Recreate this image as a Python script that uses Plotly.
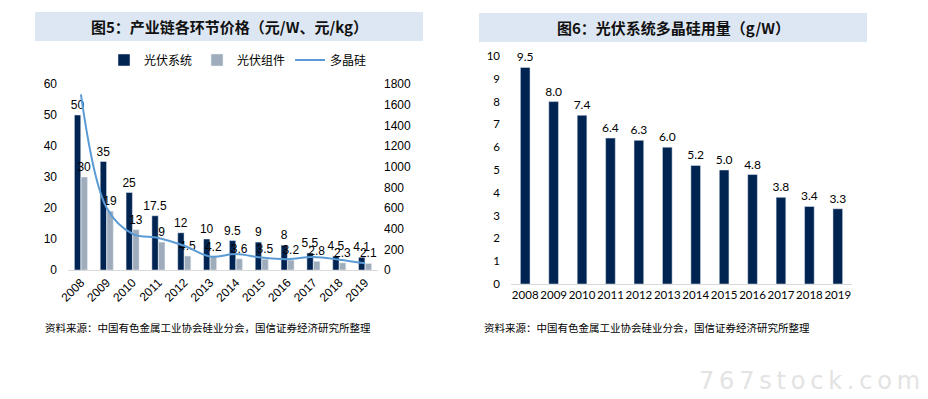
import plotly.graph_objects as go

years = ["2008", "2009", "2010", "2011", "2012", "2013", "2014", "2015", "2016", "2017", "2018", "2019"]
system_price = [50, 35, 25, 17.5, 12, 10, 9.5, 9, 8, 5.5, 4.5, 4.1]
module_price = [30, 19, 13, 9, 4.5, 4.2, 3.6, 3.5, 3.2, 2.8, 2.3, 2.1]
poly_price = [1700, 600, 350, 310, 235, 130, 155, 120, 105, 125, 100, 65]
poly_usage = [9.5, 8.0, 7.4, 6.4, 6.3, 6.0, 5.2, 5.0, 4.8, 3.8, 3.4, 3.3]

# page body has an 8px margin; the figure fills the rest of the 928x399 window
OFF = 8
W, H = 928 - OFF, 399 - OFF
def px(x):
    return (x - OFF) / W
def py(y):
    return 1 - (y - OFF) / H

NAVY = "#002451"
GREY = "#9eacbb"
BLUE = "#5b9bd5"
ARIAL = "Liberation Sans"
CJK = "Noto Sans CJK SC"

fig = go.Figure()

fig.add_trace(go.Bar(
    x=years, y=system_price, name="光伏系统", marker_color=NAVY,
    texttemplate="%{y}", textposition="outside",
    textfont=dict(family=ARIAL, size=12, color="#000"), constraintext="none",
    cliponaxis=False, xaxis="x", yaxis="y",
))
fig.add_trace(go.Bar(
    x=years, y=module_price, name="光伏组件", marker_color=GREY,
    texttemplate="%{y}", textposition="outside",
    textfont=dict(family=ARIAL, size=12, color="#000"), constraintext="none",
    cliponaxis=False, xaxis="x", yaxis="y",
))
fig.add_trace(go.Scatter(
    x=years, y=poly_price, name="多晶硅", mode="lines",
    line=dict(color=BLUE, width=2, shape="spline", smoothing=1.0),
    xaxis="x", yaxis="y2",
))
fig.add_trace(go.Bar(
    x=years, y=poly_usage, name="多晶硅用量", marker_color=NAVY, showlegend=False,
    texttemplate="%{y:.1f}", textposition="outside",
    textfont=dict(family="Lato", size=12, color="#000"), constraintext="none",
    cliponaxis=False, xaxis="x3", yaxis="y3", width=0.34,
))

fig.update_layout(
    width=W, height=H,
    margin=dict(l=0, r=0, t=0, b=0, autoexpand=False),
    paper_bgcolor="white", plot_bgcolor="white",
    barmode="group", bargap=0.48, bargroupgap=0.06,
    showlegend=True,
    legend=dict(orientation="h", x=px(104), y=py(60), xanchor="left", yanchor="middle",
                font=dict(family=CJK, size=12, color="#000"), bgcolor="rgba(0,0,0,0)",
                itemwidth=30, tracegroupgap=0),
    xaxis=dict(domain=[px(68), px(378)], anchor="y", showline=True, linecolor="#d9d9d9",
               linewidth=1, ticks="", tickangle=-45, automargin=False,
               tickfont=dict(family=ARIAL, size=12, color="#000"), showgrid=False),
    yaxis=dict(domain=[py(270), py(84)], anchor="x", range=[0, 60], dtick=10,
               showgrid=False, zeroline=False, showline=False, automargin=False,
               tickfont=dict(family=ARIAL, size=12, color="#000"), ticklabelstandoff=10),
    yaxis2=dict(overlaying="y", side="right", anchor="x", range=[0, 1800], dtick=200,
                showgrid=False, zeroline=False, showline=False, automargin=False,
                tickfont=dict(family=ARIAL, size=12, color="#000"), ticklabelstandoff=5),
    xaxis3=dict(domain=[px(511), px(852)], anchor="y3", showline=True, linecolor="#d9d9d9",
                linewidth=1, ticks="", tickangle=0, automargin=False,
                tickfont=dict(family="Lato", size=11.5, color="#000"), showgrid=False),
    yaxis3=dict(domain=[py(284), py(56)], anchor="x3", range=[0, 10], dtick=1,
                showgrid=False, zeroline=False, showline=False, automargin=False,
                tickfont=dict(family="Lato", size=11.5, color="#000"), ticklabelstandoff=10),
)

shapes = [
    dict(type="rect", xref="paper", yref="paper", x0=px(35), x1=px(423), y0=py(41), y1=py(12),
         fillcolor="#dde7f3", line=dict(width=0), layer="below"),
    dict(type="rect", xref="paper", yref="paper", x0=px(479), x1=px(867), y0=py(42), y1=py(13),
         fillcolor="#dde7f3", line=dict(width=0), layer="below"),
]
fig.update_layout(shapes=shapes)

annots = [
    dict(text="<b>图5：产业链各环节价格（元/W、元/kg）</b>", x=px(229), y=py(27),
         font=dict(family=CJK, size=15, color="#111")),
    dict(text="<b>图6：光伏系统多晶硅用量（g/W）</b>", x=px(673), y=py(28),
         font=dict(family=CJK, size=15, color="#111")),
    dict(text="资料来源：中国有色金属工业协会硅业分会，国信证券经济研究所整理", x=px(43), y=py(327),
         xanchor="left", font=dict(family=CJK, size=10.5, color="#000")),
    dict(text="资料来源：中国有色金属工业协会硅业分会，国信证券经济研究所整理", x=px(482), y=py(327),
         xanchor="left", font=dict(family=CJK, size=10.5, color="#000")),
    dict(text="\u2009".join("767stock.com"), x=px(922), y=py(381), xanchor="right",
         font=dict(family="DejaVu Sans", size=24, color="#e3e3e3")),
]
for a in annots:
    a.setdefault("xanchor", "center")
    a.update(xref="paper", yref="paper", yanchor="middle", showarrow=False)
fig.update_layout(annotations=annots)

fig.write_html("out.html")
